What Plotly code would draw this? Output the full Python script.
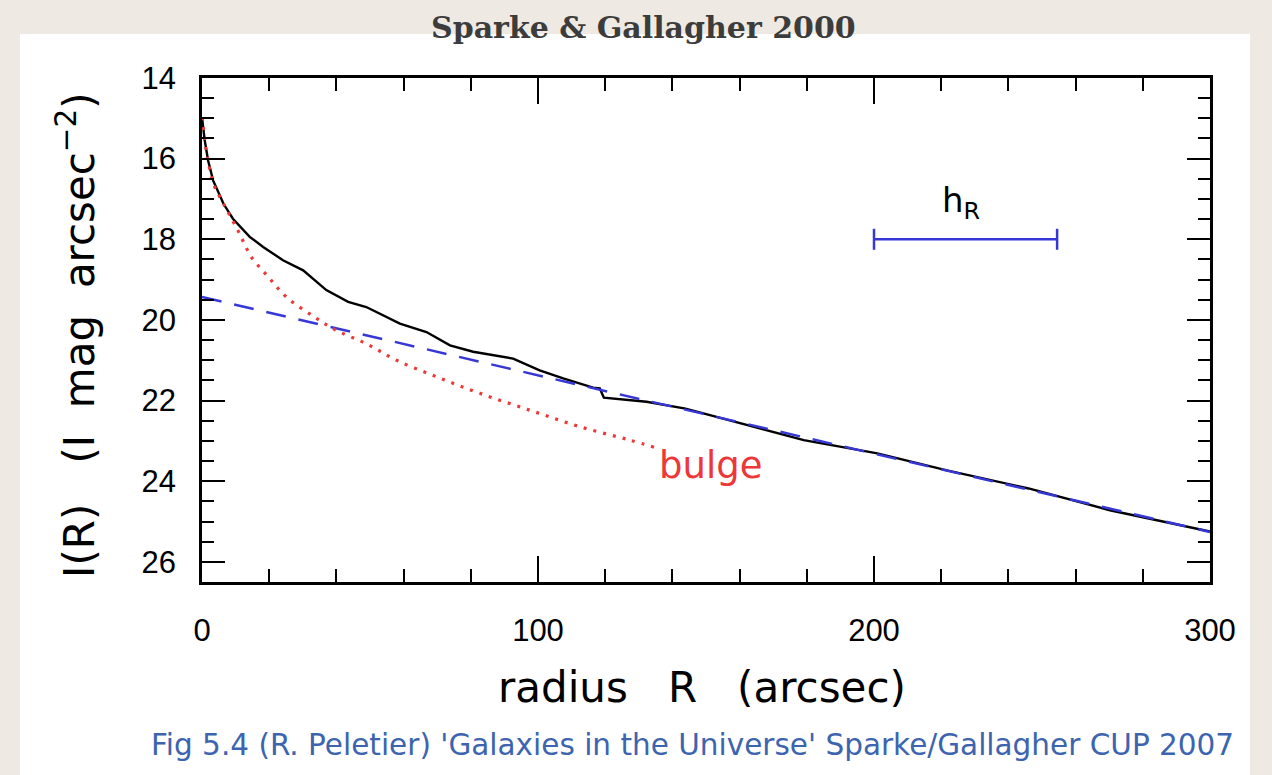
import plotly.graph_objects as go

# surface brightness profile
radius = [0, 0.8, 1.8, 3.3, 6.4, 9.2, 14.2, 18.2, 24.1, 30.1, 37.0, 43.5, 48.9,
          58.9, 66.8, 73.8, 80.7, 92.6, 100.5, 107.5, 116.4, 118.4, 119.6, 132.3,
          143.9, 158.5, 179.1, 201, 221.7, 246, 270.2, 300]
profile = [14.97, 15.54, 16.04, 16.54, 17.12, 17.49, 17.94, 18.19, 18.52, 18.77,
           19.26, 19.55, 19.68, 20.09, 20.30, 20.63, 20.79, 20.96, 21.25, 21.45,
           21.68, 21.70, 21.93, 22.03, 22.20, 22.53, 22.98, 23.31, 23.73, 24.18,
           24.72, 25.25]

bulge_r = [0, 0.8, 1.8, 3.4, 6.4, 10.7, 14.7, 19.7, 25.1, 33.5, 40.0, 48.9, 57.9,
           69.8, 82.7, 97.6, 112.5, 127.3, 135]
bulge_mag = [14.97, 15.55, 16.05, 16.62, 17.12, 17.78, 18.44, 18.93, 19.43, 19.93,
             20.26, 20.59, 21.0, 21.41, 21.82, 22.24, 22.65, 22.98, 23.17]

disk_r = [0, 300]
disk_mag = [19.43, 25.26]

hr_r = [200, 254.5]
hr_mag = [18.0, 18.0]

BLUE = "rgb(55,55,215)"
RED = "rgb(238,55,55)"
PAPER = "rgb(238,234,227)"

# plot area in pixels: left 202, right 1210, top 78, bottom 582
def px_x(x):
    return (x - 202) / 1008

def px_y(y):
    return (582 - y) / 504

fig = go.Figure()
fig.add_trace(go.Scatter(x=radius, y=profile, mode="lines",
                         line=dict(color="black", width=2.4)))
fig.add_trace(go.Scatter(x=disk_r, y=disk_mag, mode="lines",
                         line=dict(color=BLUE, width=2.5, dash="20px,13px")))
fig.add_trace(go.Scatter(x=bulge_r, y=bulge_mag, mode="lines",
                         line=dict(color=RED, width=3.2, dash="3px,7px", shape="spline")))
fig.add_trace(go.Scatter(x=hr_r, y=hr_mag, mode="lines+markers",
                         line=dict(color=BLUE, width=2.5),
                         marker=dict(symbol="line-ns", size=15,
                                     line=dict(color=BLUE, width=2.5))))

fig.add_annotation(x=135.5, y=23.6, xref="x", yref="y", text="bulge", showarrow=False,
                   xanchor="left", font=dict(family="DejaVu Sans", size=37, color=RED))
fig.add_annotation(x=226, y=17.1, xref="x", yref="y", text="h<sub>R</sub>",
                   showarrow=False, font=dict(family="DejaVu Sans", size=34, color="black"))

# white page behind the chart
fig.add_shape(type="rect", xref="paper", yref="paper", layer="below",
              x0=px_x(20), x1=px_x(1250), y0=px_y(790), y1=px_y(34),
              fillcolor="white", line=dict(width=0))

page_text = dict(xref="paper", yref="paper", showarrow=False,
                 xanchor="center", yanchor="middle")
fig.add_annotation(x=px_x(643), y=px_y(28), text="<b>Sparke & Gallagher 2000</b>",
                   font=dict(family="DejaVu Serif", size=30, color="#3c3c3c"), **page_text)
fig.add_annotation(x=px_x(702), y=px_y(687), text="radius   R   (arcsec)",
                   font=dict(family="DejaVu Sans", size=42, color="black"), **page_text)
fig.add_annotation(x=px_x(76), y=px_y(335), text="I(R)   (I  mag  arcsec<sup>−2</sup>)",
                   textangle=-90,
                   font=dict(family="DejaVu Sans", size=42, color="black"), **page_text)
fig.add_annotation(x=px_x(692), y=px_y(745),
                   text="Fig 5.4 (R. Peletier) 'Galaxies in the Universe' Sparke/Gallagher CUP 2007",
                   font=dict(family="DejaVu Sans", size=29.5, color="rgb(60,100,175)"),
                   **page_text)

axis_common = dict(showline=True, linecolor="black", linewidth=2.5, mirror="ticks",
                   ticks="inside", tickcolor="black", tickwidth=2, showgrid=False,
                   zeroline=False, tickfont=dict(family="Liberation Sans", size=31,
                                                 color="black"))
fig.update_xaxes(range=[0, 300], tick0=0, dtick=100, ticklen=26,
                 ticklabelstandoff=19,
                 minor=dict(ticks="inside", dtick=20, ticklen=13, tickcolor="black",
                            tickwidth=2),
                 **axis_common)
fig.update_yaxes(range=[26.5, 14], tick0=14, dtick=2, ticklen=23,
                 ticklabelstandoff=17,
                 minor=dict(ticks="inside", dtick=0.5, ticklen=12, tickcolor="black",
                            tickwidth=2),
                 **axis_common)

fig.update_layout(width=1272, height=775, showlegend=False,
                  margin=dict(l=202, r=62, t=78, b=193),
                  paper_bgcolor=PAPER, plot_bgcolor="white")

# drop the page's default body margin so the figure sits at the window corner
fig.write_html("out.html", config=dict(displayModeBar=False),
               post_script="document.body.style.margin='0';"
                           "document.body.style.overflow='hidden';"
                           "document.body.style.background='" + PAPER + "';")
